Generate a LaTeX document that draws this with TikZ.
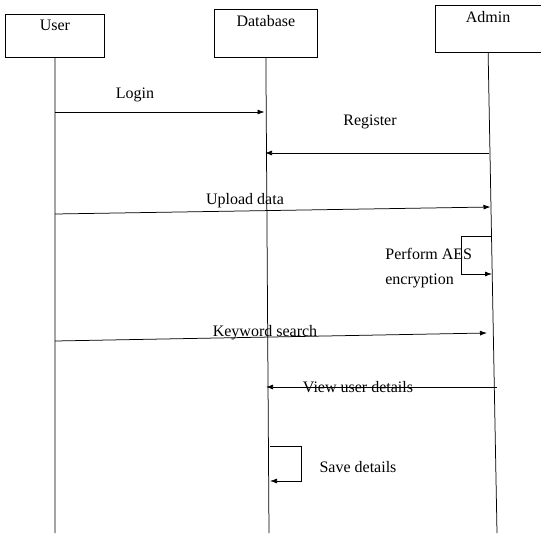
\documentclass[tikz,border=0pt]{standalone}
\usepackage{fontspec}
\setmainfont{Liberation Serif}
\usetikzlibrary{arrows.meta,positioning}

\begin{document}
\begin{tikzpicture}[x=1pt,y=-1pt,line width=0.75pt]
\tikzstyle{io}=[font=\fontsize{16}{18}\selectfont,inner sep=0pt];
\tikzstyle{actor}=[draw,rectangle,anchor=north west,inner sep=0pt];
\tikzstyle{msg}=[-{Latex[length=7pt,width=5pt]}];
\useasboundingbox (0,0) rectangle (541,533);

% actors
\node[actor,minimum width=99pt,minimum height=43pt] (user) at (5,14) {};
\node[io,below=6pt of user.north] (userlbl) {User};
\node[actor,minimum width=103pt,minimum height=48pt] (db) at (214,9) {};
\node[io,below=6pt of db.north] (dblbl) {Database};
\node[actor,minimum width=105.5pt,minimum height=47pt] (admin) at (435,5) {};
\node[io,below=6pt of admin.north] (adminlbl) {Admin};

% lifelines
\coordinate (userend) at (55,533);
\coordinate (dbend) at (269,533);
\coordinate (adminend) at (497,533);
\draw (user.south) -- (userend);
\draw (db.south) -- (dbend);
\draw (admin.south) -- (adminend);

% login
\coordinate (login-a) at (55,112);
\coordinate (login-b) at (264.5,112);
\draw[msg] (login-a) -- (login-b);
\node[io] (loginlbl) at (135,95) {Login};

% register
\coordinate (reg-a) at (489,153);
\coordinate (reg-b) at (265,153);
\draw[msg] (reg-a) -- (reg-b);
\node[io] (reglbl) at (370,122) {Register};

% upload
\coordinate (up-a) at (55,214);
\coordinate (up-b) at (490.5,207);
\draw[msg] (up-a) -- (up-b);
\node[io] (uplbl) at (245,201) {Upload data};

% aes
\coordinate (aes-a) at (491.5,236);
\coordinate (aes-b) at (492,274);
\draw[msg] (aes-a) -- ++(-30,0) |- (aes-b);
\node[io,anchor=west] (aeslbl) at (385,254) {Perform AES};
\node[io,anchor=west] (enclbl) at (385,281) {encryption};

% keyword search
\coordinate (kw-a) at (55,341);
\coordinate (kw-b) at (487,333);
\draw[msg] (kw-a) -- (kw-b);
\node[io] (kwlbl) at (265,333) {Keyword search};

% view user details
\coordinate (view-a) at (497,387);
\coordinate (view-b) at (266,387);
\draw[msg] (view-a) -- (view-b);
\node[io] (viewlbl) at (358,387) {View user details};

% save
\coordinate (save-a) at (270,446);
\coordinate (save-b) at (270,481);
\draw[msg] (save-a) -- ++(31,0) |- (save-b);
\node[io] (savelbl) at (358,467) {Save details};
\end{tikzpicture}
\end{document}
